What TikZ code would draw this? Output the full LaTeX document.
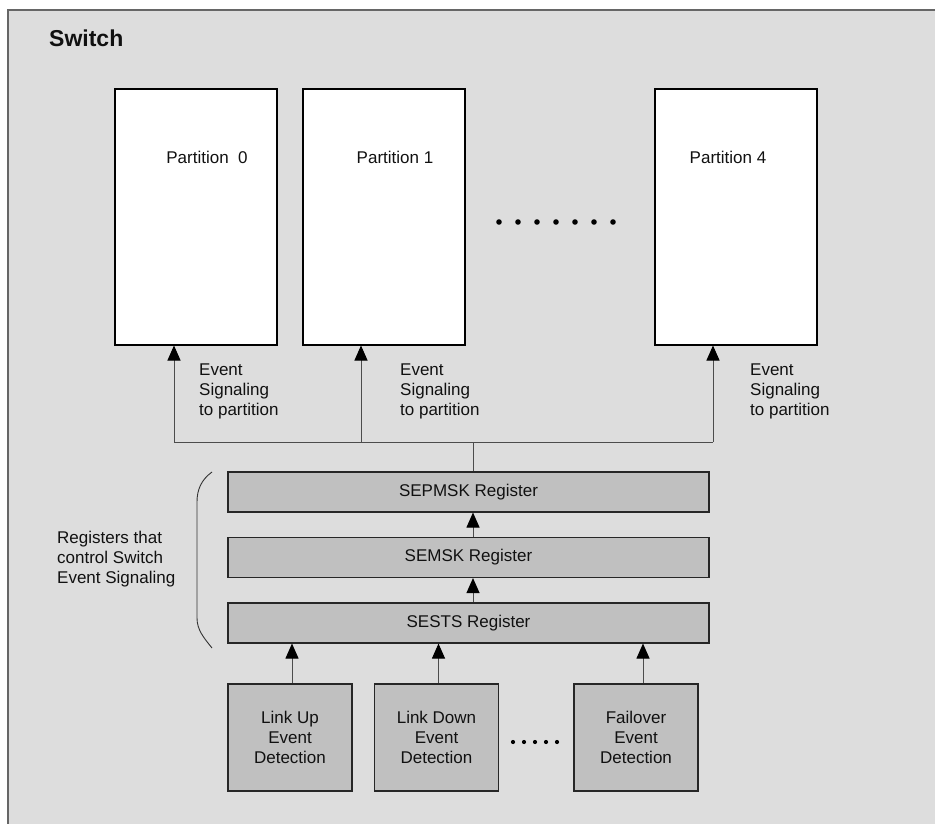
\documentclass[tikz,border=0pt]{standalone}
\usepackage{fontspec}
\setmainfont{Liberation Sans}
\usepackage{xcolor}
\usetikzlibrary{arrows.meta,positioning}
\definecolor{bgfill}{HTML}{DDDDDD}
\definecolor{regfill}{HTML}{C0C0C0}
\definecolor{edge}{HTML}{666666}
\definecolor{ink}{HTML}{111111}
\begin{document}
\begin{tikzpicture}[
  x=1pt, y=-1pt,
  font=\fontsize{17}{20}\selectfont,
  text=ink,
  part/.style={draw=black, fill=white, line width=1.1pt, minimum width=162pt, minimum height=256pt, inner sep=0pt},
  reg/.style={draw=black!85, fill=regfill, line width=1.1pt, minimum width=481pt, minimum height=40pt, inner sep=0pt},
  detect/.style={draw=black!85, fill=regfill, line width=1.1pt, minimum width=124pt, minimum height=107pt, inner sep=0pt, align=center},
  lbl/.style={align=left, anchor=west, inner sep=0pt},
  arr/.style={-{Triangle[length=15pt,width=13pt,black]}, line width=1pt, draw=black!70},
  wire/.style={line width=1pt, draw=black!70}
]
\clip (0,0) rectangle (935,824);
\fill[bgfill] (8,10) rectangle (950,840);
\draw[edge, line width=2pt] (8,840) -- (8,10) -- (950,10);
\node[anchor=base west, inner sep=0pt, font=\fontsize{23}{26}\selectfont\bfseries] (title) at (49,47) {Switch};

\node[part] (part0) at (196,217) {};
\node[part] (part1) at (384,217) {};
\node[part] (part4) at (736,217) {};
\node (p0txt) at (207,157) {Partition~~0};
\node (p1txt) at (395,157) {Partition 1};
\node (p4txt) at (728,157) {Partition 4};
\foreach \i in {0,...,6}
  \fill (499+19*\i,222) circle (2.8pt);

\node[reg] (sepmsk) at (468.5,492) {SEPMSK Register};
\node[reg] (semsk) at (468.5,557.5) {SEMSK Register};
\node[reg] (sests) at (468.5,623) {SESTS Register};

\coordinate (bus) at (473,442);
\draw[wire] (sepmsk.north -| bus) -- (bus);
\draw[wire] (174,442) -- (713,442);
\draw[arr] (174,442) -- (174,345.5);
\draw[arr] (361,442) -- (361,345.5);
\draw[arr] (713,442) -- (713,345.5);

\node[lbl] (sig0) at (199,391) {Event\\Signaling\\to partition};
\node[lbl] (sig1) at (400,391) {Event\\Signaling\\to partition};
\node[lbl] (sig4) at (750,391) {Event\\Signaling\\to partition};

\draw[arr] (sests.north -| bus) -- (semsk.south -| bus);
\draw[arr] (semsk.north -| bus) -- (sepmsk.south -| bus);

\draw[line width=0.9pt, black!80] (212,472) .. controls (201,480) and (197,490) .. (197,502)
  -- (197,618) .. controls (197,630) and (204,638) .. (212,648);
\node[lbl] (ctrl) at (57,559) {Registers that\\control Switch\\Event Signaling};

\node[detect] (linkup) at (290,737.5) {Link Up\\Event\\Detection};
\node[detect] (linkdown) at (436.5,737.5) {Link Down\\Event\\Detection};
\node[detect] (failover) at (636,737.5) {Failover\\Event\\Detection};
\foreach \i in {0,...,4}
  \fill (513+11*\i,742) circle (2.1pt);

\draw[arr] ([xshift=2pt]linkup.north) -- ([xshift=2pt]linkup.north |- sests.south);
\draw[arr] ([xshift=2pt]linkdown.north) -- ([xshift=2pt]linkdown.north |- sests.south);
\draw[arr] ([xshift=7pt]failover.north) -- ([xshift=7pt]failover.north |- sests.south);
\end{tikzpicture}
\end{document}
